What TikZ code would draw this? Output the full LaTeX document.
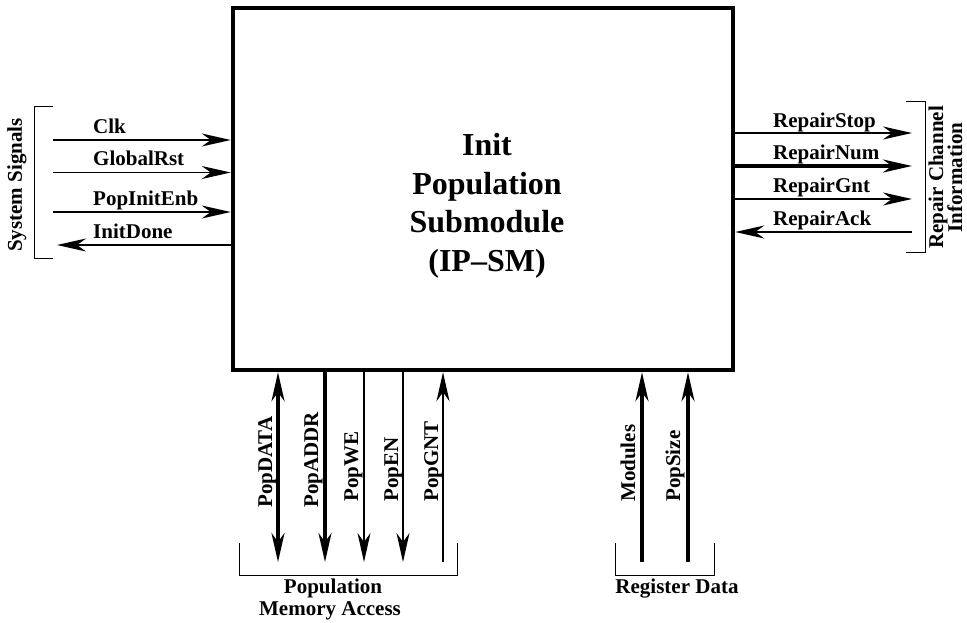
\documentclass[tikz,border=0pt]{standalone}
\usepackage{fontspec}
\setmainfont{Liberation Serif}
\usetikzlibrary{arrows.meta}
\begin{document}
\begin{tikzpicture}[x=1pt,y=-1pt,
  tip/.style={-{Stealth[length=29pt,width=13pt,inset=9pt]}},
  thin/.style={line width=1.4pt},
  thick/.style={line width=3.4pt},
  brk/.style={line width=0.9pt},
  lbl/.style={font=\fontsize{21}{16}\selectfont\bfseries, inner sep=0pt},
  rlbl/.style={lbl, rotate=90, anchor=base west}]
\useasboundingbox (0,0) rectangle (967,622);
% main box
\node (box) [draw, line width=4.5pt, minimum width=500pt, minimum height=362pt] at (483,189) {};
\node (title) [align=center, font=\fontsize{32}{38.5}\selectfont\bfseries, inner sep=0pt]
  at (487,206) {Init\\Population\\Submodule\\(IP--SM)};
% left side signals
\coordinate (clk) at (53,140);
\coordinate (grst) at (53,172.5);
\coordinate (pie) at (53,212);
\coordinate (idn) at (57,245);
\draw[thin,tip] (clk) -- (clk -| box.west);
\draw[thin,tip] (grst) -- (grst -| box.west);
\draw[thin,tip] (pie) -- (pie -| box.west);
\draw[thin,tip] (idn -| box.west) -- (idn);
\node (lclk) [lbl, anchor=base west] at (93,133) {Clk};
\node (lgrst) [lbl, anchor=base west] at (93,165.5) {GlobalRst};
\node (lpie) [lbl, anchor=base west] at (93,205) {PopInitEnb};
\node (lidn) [lbl, anchor=base west] at (93,238) {InitDone};
\draw[brk] (53,106) -- (34,106) -- (34,258) -- (53,258);
\node (sys) [lbl, rotate=90] at (17,185) {System Signals};
% right side signals
\coordinate (rstop) at (912,133);
\coordinate (rnum) at (912,166);
\coordinate (rgnt) at (912,199);
\coordinate (rack) at (912,232);
\draw[thin,tip] (rstop -| box.east) -- (rstop);
\draw[thick,tip] (rnum -| box.east) -- (rnum);
\draw[thin,tip] (rgnt -| box.east) -- (rgnt);
\draw[thin,tip] (rack) -- (rack -| box.east);
\node (lrstop) [lbl, anchor=base west] at (773,127) {RepairStop};
\node (lrnum) [lbl, anchor=base west] at (773,159) {RepairNum};
\node (lrgnt) [lbl, anchor=base west] at (773,192) {RepairGnt};
\node (lrack) [lbl, anchor=base west] at (773,225) {RepairAck};
\draw[brk] (906,101) -- (925,101) -- (925,252) -- (906,252);
\node (rci1) [lbl, rotate=90, anchor=base] at (943,177.5) {Repair Channel};
\node (rci2) [lbl, rotate=90, anchor=base] at (962,177.5) {Information};
% bottom: population memory access
\coordinate (pdata) at (278,562);
\coordinate (paddr) at (325,562);
\coordinate (pwe) at (364,562);
\coordinate (pen) at (403,562);
\coordinate (pgnt) at (443,562);
\draw[thick,{Stealth[length=29pt,width=13pt,inset=9pt]}-{Stealth[length=29pt,width=13pt,inset=9pt]}]
  (pdata) -- (pdata |- box.south);
\draw[thick,tip] (paddr |- box.south) -- (paddr);
\draw[thin,tip] (pwe |- box.south) -- (pwe);
\draw[thin,tip] (pen |- box.south) -- (pen);
\draw[thin,tip] (pgnt) -- (pgnt |- box.south);
\node (lpdata) [rlbl] at (272,508) {PopDATA};
\node (lpaddr) [rlbl] at (318,508) {PopADDR};
\node (lpwe) [rlbl] at (358,502) {PopWE};
\node (lpen) [rlbl] at (398,502) {PopEN};
\node (lpgnt) [rlbl] at (438,502) {PopGNT};
\draw[brk] (239,543) -- (239,575) -- (457,575) -- (457,543);
\node (pma1) [lbl, anchor=base] at (333,593) {Population};
\node (pma2) [lbl, anchor=base] at (330,615) {Memory Access};
% bottom: register data
\coordinate (mods) at (642,562);
\coordinate (psize) at (688,562);
\draw[thick,tip] (mods) -- (mods |- box.south);
\draw[thick,tip] (psize) -- (psize |- box.south);
\node (lmods) [rlbl] at (635,502) {Modules};
\node (lpsize) [rlbl] at (680,502) {PopSize};
\draw[brk] (615,543) -- (615,575) -- (714,575) -- (714,543);
\node (rd) [lbl, anchor=base] at (677,593) {Register Data};
\end{tikzpicture}
\end{document}
